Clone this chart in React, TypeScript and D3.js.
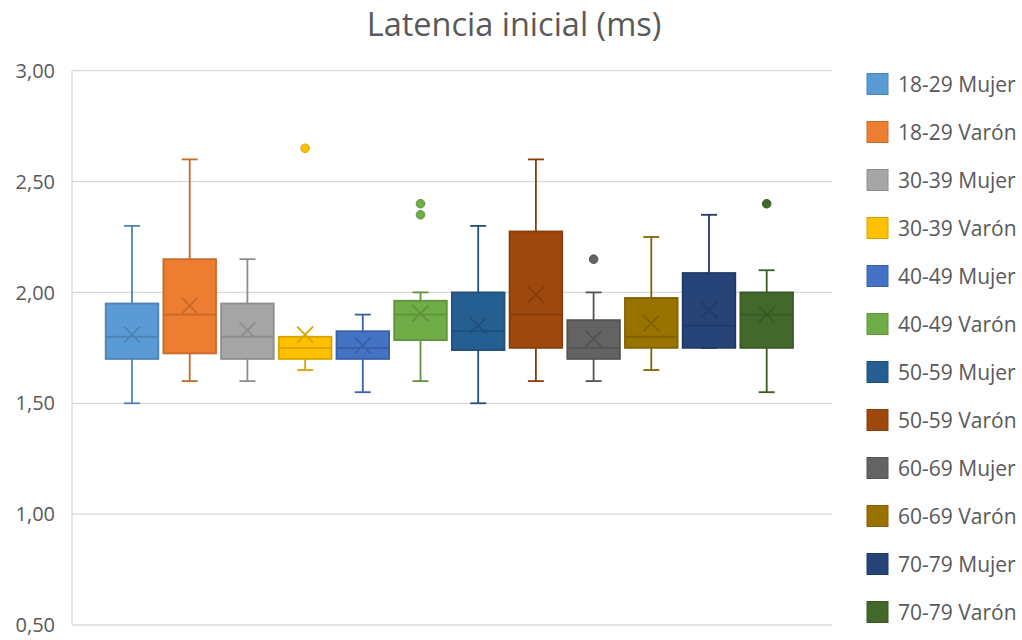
import React from "react";
import * as d3 from "d3";

// Series: age band + sex
const categories = [
  "18-29 Mujer", "18-29 Varón", "30-39 Mujer", "30-39 Varón",
  "40-49 Mujer", "40-49 Varón", "50-59 Mujer", "50-59 Varón",
  "60-69 Mujer", "60-69 Varón", "70-79 Mujer", "70-79 Varón",
];

// Five-number summaries per series (ms)
const whiskerLow = [1.5, 1.6, 1.6, 1.65, 1.55, 1.6, 1.5, 1.6, 1.6, 1.65, 1.75, 1.55];
const q1 = [1.7, 1.725, 1.7, 1.7, 1.7, 1.785, 1.74, 1.75, 1.7, 1.75, 1.75, 1.75];
const median = [1.8, 1.9, 1.8, 1.75, 1.75, 1.9, 1.825, 1.9, 1.75, 1.8, 1.85, 1.9];
const q3 = [1.95, 2.15, 1.95, 1.8, 1.825, 1.9625, 2.0, 2.275, 1.875, 1.975, 2.0875, 2.0];
const whiskerHigh = [2.3, 2.6, 2.15, 1.8, 1.9, 2.0, 2.3, 2.6, 2.0, 2.25, 2.35, 2.1];
const means = [1.81, 1.94, 1.83, 1.81, 1.76, 1.905, 1.85, 1.99, 1.79, 1.86, 1.92, 1.9];
const outliers: number[][] = [[], [], [], [2.65], [], [2.4, 2.35], [], [], [2.15], [], [], [2.4]];

const yTicks = [0.5, 1.0, 1.5, 2.0, 2.5, 3.0];

const fills = [
  "#5B9BD5", "#ED7D31", "#A5A5A5", "#FFC000", "#4472C4", "#70AD47",
  "#255E91", "#9E480E", "#636363", "#997300", "#264478", "#43682B",
];

const W = 1022;
const H = 640;
const plot = { left: 72, right: 832, top: 70.7, bottom: 625 };
const textColor = "#595959";
const gridColor = "#d9d9d9";
const font = "'Open Sans', sans-serif";

export default function App() {
  const y = d3.scaleLinear().domain([0.5, 3.0]).range([plot.bottom, plot.top]);
  const x = d3
    .scaleBand<string>()
    .domain(categories)
    .range([105.7, 793])
    .paddingInner(0.088)
    .paddingOuter(0);
  const legendY = d3
    .scalePoint<string>()
    .domain(categories)
    .range([84, 612]);
  const fmt = (v: number) => d3.format(".2f")(v).replace(".", ",");
  const strokeOf = (c: string) => d3.color(c)!.darker(0.45).formatHex();

  return (
    <div style={{ position: "absolute", left: 0, top: 0 }}>
      <svg width={W} height={H} style={{ display: "block", background: "#fff" }}>
        <text
          x={514}
          y={36}
          textAnchor="middle"
          fontFamily={font}
          fontSize={32.5}
          fill={textColor}
        >
          Latencia inicial (ms)
        </text>

        {/* gridlines and value axis */}
        {yTicks.map((t) => (
          <g key={t}>
            <line
              x1={plot.left}
              x2={plot.right}
              y1={y(t)}
              y2={y(t)}
              stroke={gridColor}
              strokeWidth={1.3}
            />
            <text
              x={55}
              y={y(t)}
              dy="0.36em"
              textAnchor="end"
              fontFamily={font}
              fontSize={20}
              fill={textColor}
            >
              {fmt(t)}
            </text>
          </g>
        ))}
        <line
          x1={plot.left}
          x2={plot.left}
          y1={plot.top}
          y2={plot.bottom}
          stroke={gridColor}
          strokeWidth={1.3}
        />

        {/* boxes */}
        {categories.map((c, i) => {
          const x0 = x(c)!;
          const bw = x.bandwidth();
          const cx = x0 + bw / 2;
          const fill = fills[i];
          const stroke = strokeOf(fill);
          const cap = 8;
          const m = 8;
          const my = y(means[i]);
          const sw = 1.8;
          return (
            <g key={c}>
              <line x1={cx} x2={cx} y1={y(whiskerHigh[i])} y2={y(q3[i])} stroke={stroke} strokeWidth={sw} />
              <line x1={cx} x2={cx} y1={y(q1[i])} y2={y(whiskerLow[i])} stroke={stroke} strokeWidth={sw} />
              <line x1={cx - cap} x2={cx + cap} y1={y(whiskerHigh[i])} y2={y(whiskerHigh[i])} stroke={stroke} strokeWidth={sw} />
              <line x1={cx - cap} x2={cx + cap} y1={y(whiskerLow[i])} y2={y(whiskerLow[i])} stroke={stroke} strokeWidth={sw} />
              <rect
                x={x0}
                y={y(q3[i])}
                width={bw}
                height={y(q1[i]) - y(q3[i])}
                fill={fill}
                stroke={stroke}
                strokeWidth={sw}
              />
              <line x1={x0} x2={x0 + bw} y1={y(median[i])} y2={y(median[i])} stroke={stroke} strokeWidth={sw} />
              <path
                d={`M${cx - m},${my - m}L${cx + m},${my + m}M${cx - m},${my + m}L${cx + m},${my - m}`}
                stroke={stroke}
                strokeWidth={sw}
                fill="none"
              />
              {outliers[i].map((o, k) => (
                <circle key={k} cx={cx} cy={y(o)} r={4.3} fill={fill} stroke={stroke} strokeWidth={1} />
              ))}
            </g>
          );
        })}

        {/* legend */}
        {categories.map((c, i) => {
          const ly = legendY(c)!;
          return (
            <g key={c}>
              <rect
                x={867}
                y={ly - 10.5}
                width={21}
                height={21}
                fill={fills[i]}
                stroke={strokeOf(fills[i])}
                strokeWidth={1}
              />
              <text
                x={898}
                y={ly}
                dy="0.36em"
                fontFamily={font}
                fontSize={21}
                fill={textColor}
              >
                {c}
              </text>
            </g>
          );
        })}
      </svg>
    </div>
  );
}
